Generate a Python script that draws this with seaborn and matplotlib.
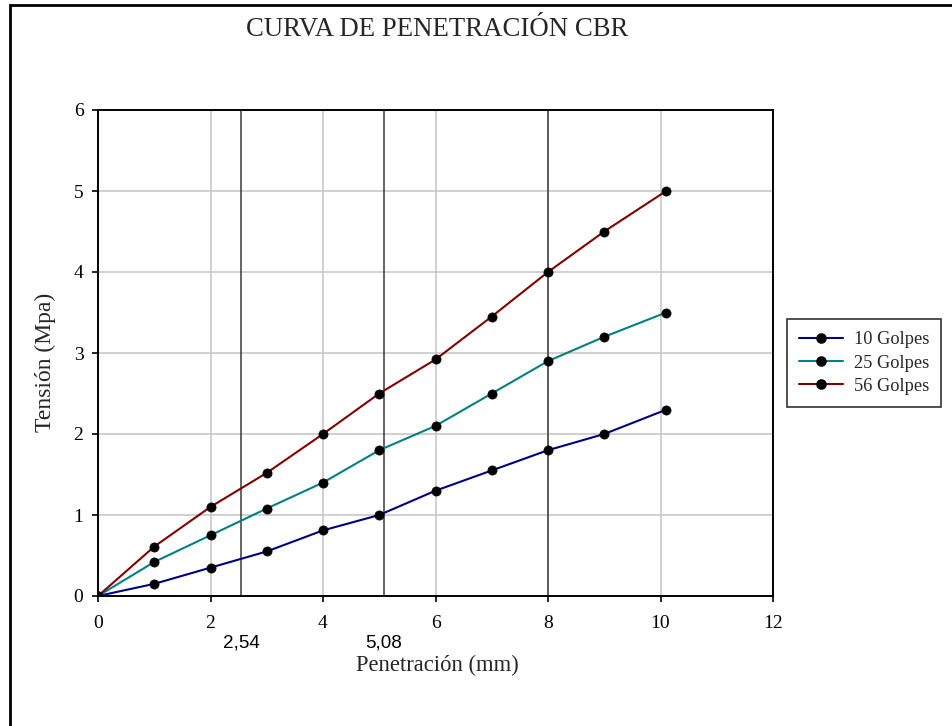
import matplotlib
matplotlib.use("Agg")
import matplotlib.pyplot as plt
from matplotlib.patches import Rectangle
from matplotlib.lines import Line2D
import seaborn as sns
import pandas as pd

# ---- data ----
penetracion = [0, 1, 2, 3, 4, 5, 6, 7, 8, 9, 10.1]
golpes_10 = [0, 0.15, 0.35, 0.55, 0.81, 1.0, 1.3, 1.55, 1.8, 2.0, 2.3]
golpes_25 = [0, 0.42, 0.75, 1.08, 1.4, 1.8, 2.1, 2.5, 2.9, 3.2, 3.5]
golpes_56 = [0, 0.61, 1.1, 1.52, 2.0, 2.5, 2.92, 3.45, 4.0, 4.5, 5.0]
series_names = ["10 Golpes", "25 Golpes", "56 Golpes"]
ref_lines = [2.54, 5.08, 8]
ref_labels = ["2,54", "5,08"]
x_ticks = [0, 2, 4, 6, 8, 10, 12]
y_ticks = [0, 1, 2, 3, 4, 5, 6]
title = "CURVA DE PENETRACIÓN CBR"
xlabel = "Penetración (mm)"
ylabel = "Tensión (Mpa)"

colors = ["#000080", "#008080", "#800000"]

sns.set_theme(style="white")
plt.rcParams["font.family"] = ["Liberation Serif", "DejaVu Serif"]

df = pd.DataFrame({
    "x": penetracion * 3,
    "y": golpes_10 + golpes_25 + golpes_56,
    "serie": [series_names[0]] * len(penetracion)
    + [series_names[1]] * len(penetracion)
    + [series_names[2]] * len(penetracion),
})

fig = plt.figure(figsize=(9.52, 7.26), dpi=100)
ax = fig.add_axes([98 / 952, 1 - 596 / 726, (773 - 98) / 952, (596 - 110) / 726])

# grid
for gx in x_ticks[1:-1]:
    ax.axvline(gx, color="#c8c8c8", lw=1.2, zorder=0)
for gy in y_ticks[1:-1]:
    ax.axhline(gy, color="#c8c8c8", lw=1.2, zorder=0)
for rx in ref_lines:
    ax.axvline(rx, color="#3a3a3a", lw=1.1, zorder=1)

for name, col in zip(series_names, colors):
    sub = df[df["serie"] == name]
    sns.lineplot(data=sub, x="x", y="y", ax=ax, color=col, lw=1.5,
                 marker="o", markersize=6.6, markerfacecolor="black",
                 markeredgecolor="black", markeredgewidth=0.5,
                 legend=False, zorder=3, sort=False)

ax.set_xlim(0, 12)
ax.set_ylim(0, 6)
ax.set_xticks(x_ticks)
ax.set_yticks(y_ticks)
ax.tick_params(axis="both", which="major", direction="out", length=4.5,
               width=1.2, colors="black", labelsize=14, bottom=True, left=True)
ax.tick_params(axis="x", pad=9.5)
ax.tick_params(axis="y", pad=6)
for s in ax.spines.values():
    s.set_color("black")
    s.set_linewidth(1.4)
ax.set_xlabel("")
ax.set_ylabel("")

fig.text(437 / 952, 1 - 665 / 726, xlabel, ha="center", va="center", fontsize=16.3)
fig.text(45 / 952, 1 - 362 / 726, ylabel, ha="center", va="center",
         rotation=90, fontsize=17)
fig.text(437 / 952, 1 - 30 / 726, title, ha="center", va="center", fontsize=19.3)

for rx, lab in zip(ref_lines, ref_labels):
    ax.text(rx, -0.638, lab, ha="center", va="baseline", fontsize=13.6,
            family=["Liberation Sans", "DejaVu Sans"], color="black")

handles = [Line2D([0], [0], color=c, lw=1.5, marker="o", markersize=6.6,
                  markerfacecolor="black", markeredgecolor="black")
           for c in colors]
leg = fig.legend(handles, series_names, loc="upper left",
                 bbox_to_anchor=(787 / 952, 1 - 319 / 726),
                 bbox_transform=fig.transFigure, fontsize=13.2,
                 frameon=True, fancybox=False, edgecolor="black",
                 borderpad=0.68, handlelength=2.35, labelspacing=0.33,
                 handletextpad=0.6, borderaxespad=0)
leg.get_frame().set_linewidth(1.2)

fig.patches.append(Rectangle((10 / 952, -0.1), 1.2, 1 - 5 / 726 + 0.1,
                             transform=fig.transFigure, fill=False,
                             edgecolor="black", lw=2, zorder=10))

fig.savefig("out.png", dpi=100, facecolor="white")
